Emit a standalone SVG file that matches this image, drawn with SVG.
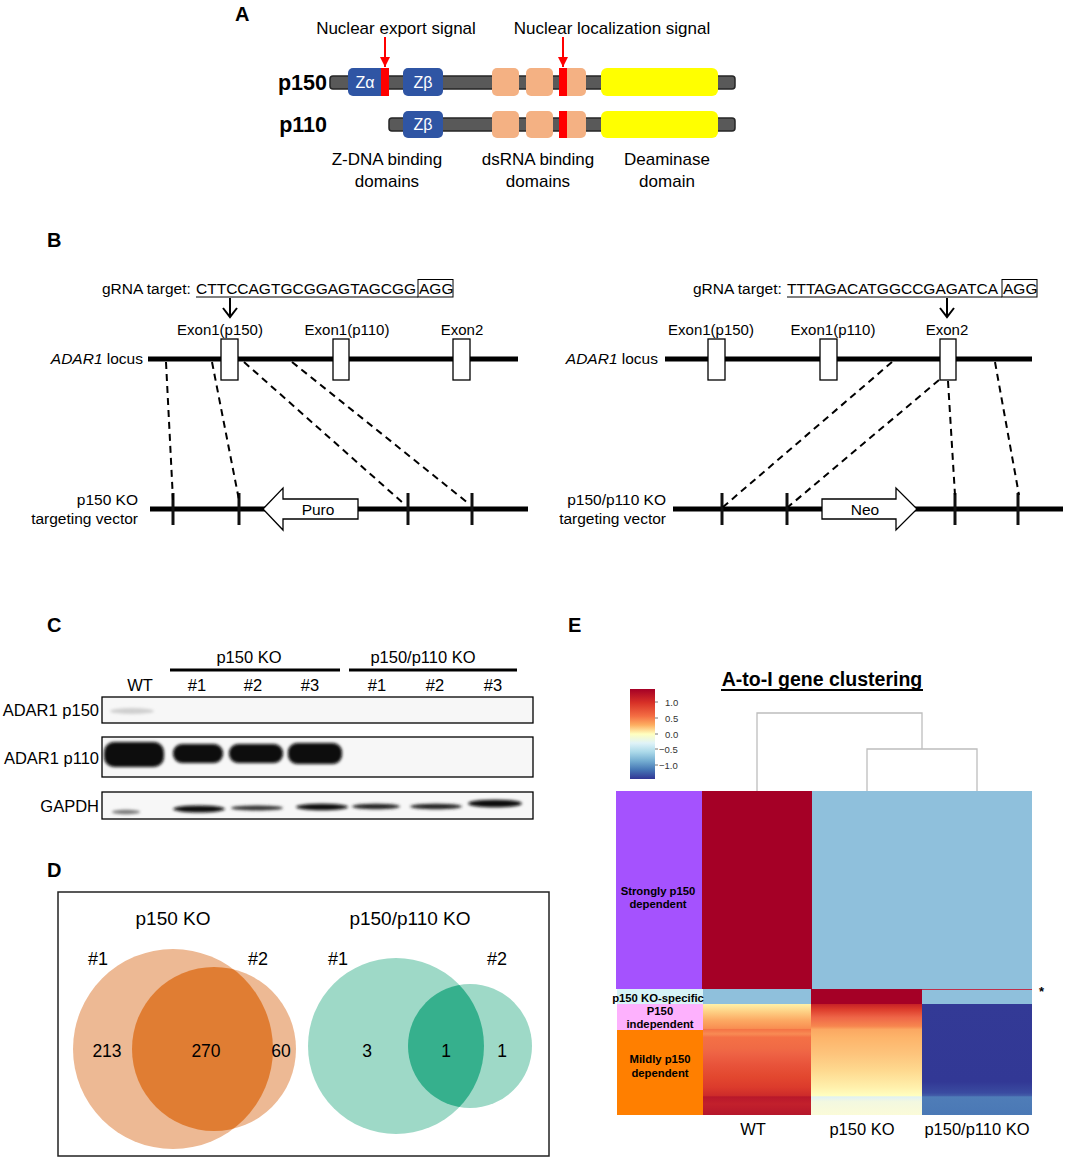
<svg xmlns="http://www.w3.org/2000/svg" width="1065" height="1159" viewBox="0 0 1065 1159">
<style>
text{font-family:"Liberation Sans",Arial,sans-serif;fill:#000}
.lbl{font-size:20px;font-weight:bold}
.a17{font-size:17px}
.b15{font-size:15.5px}
.e15{font-size:15px}
.c16{font-size:16.5px}
.bar{fill:#595959;stroke:#262626;stroke-width:1.5}
.zb{fill:#2f55a4}
.ds{fill:#f4b183}
.red{fill:#ff0000}
.yel{fill:#ffff00}
.zt{fill:#fff;font-size:16px}
.exon{fill:#fff;stroke:#000;stroke-width:1.3}
.thick{stroke:#000;stroke-width:5;fill:none}
.tick{stroke:#111;stroke-width:3}
.dash{stroke:#000;stroke-width:2;stroke-dasharray:7 5;fill:none}
.blot{fill:#f7f7f7;stroke:#000;stroke-width:1.3}
.dend{stroke:#bdbdbd;stroke-width:1.3;fill:none}
.ann{font-size:11.3px;font-weight:bold}
.cb{font-size:9.5px;fill:#333}
</style>
<defs>
<marker id="redArrow" markerWidth="10" markerHeight="10" refX="10" refY="5" orient="auto" markerUnits="userSpaceOnUse" viewBox="0 0 10 10"><path d="M0,0 L10,5 L0,10 Z" fill="#ff0000"/></marker>
<filter id="blur2" x="-20%" y="-60%" width="140%" height="220%"><feGaussianBlur stdDeviation="1.6"/></filter>
<linearGradient id="cbar" x1="0" y1="0" x2="0" y2="1">
<stop offset="0" stop-color="#a50026"/><stop offset="0.15" stop-color="#d73027"/><stop offset="0.3" stop-color="#f46d43"/><stop offset="0.4" stop-color="#fdae61"/><stop offset="0.5" stop-color="#ffffbf"/><stop offset="0.6" stop-color="#e0f3f8"/><stop offset="0.7" stop-color="#abd9e9"/><stop offset="0.8" stop-color="#74add1"/><stop offset="0.9" stop-color="#4575b4"/><stop offset="1" stop-color="#313695"/>
</linearGradient>
<linearGradient id="gWT" gradientUnits="userSpaceOnUse" x1="0" y1="1004" x2="0" y2="1115">
<stop offset="0" stop-color="#fff1a8"/><stop offset="0.07" stop-color="#fed084"/><stop offset="0.15" stop-color="#fca862"/><stop offset="0.22" stop-color="#f98e52"/><stop offset="0.23" stop-color="#f57446"/><stop offset="0.27" stop-color="#f88b54"/><stop offset="0.3" stop-color="#f47046"/><stop offset="0.4" stop-color="#f06a45"/><stop offset="0.45" stop-color="#ee6244"/><stop offset="0.55" stop-color="#e8533a"/><stop offset="0.65" stop-color="#e3482f"/><stop offset="0.75" stop-color="#dc3b2c"/><stop offset="0.83" stop-color="#cc2a2a"/><stop offset="0.835" stop-color="#b8172b"/><stop offset="0.9" stop-color="#c2202c"/><stop offset="1" stop-color="#b5162b"/>
</linearGradient>
<linearGradient id="gKO" gradientUnits="userSpaceOnUse" x1="0" y1="1004" x2="0" y2="1115">
<stop offset="0" stop-color="#c72026"/><stop offset="0.05" stop-color="#dd3d2c"/><stop offset="0.12" stop-color="#ee6547"/><stop offset="0.2" stop-color="#f7864f"/><stop offset="0.23" stop-color="#fba862"/><stop offset="0.3" stop-color="#fdb46a"/><stop offset="0.45" stop-color="#fdc47c"/><stop offset="0.6" stop-color="#fed98f"/><stop offset="0.75" stop-color="#fff0ac"/><stop offset="0.83" stop-color="#ffffc0"/><stop offset="0.835" stop-color="#dff1f3"/><stop offset="0.88" stop-color="#f3f8e0"/><stop offset="1" stop-color="#fbfbd8"/>
</linearGradient>
<linearGradient id="gDKO" gradientUnits="userSpaceOnUse" x1="0" y1="1004" x2="0" y2="1115">
<stop offset="0" stop-color="#333a96"/><stop offset="0.7" stop-color="#323895"/><stop offset="0.8" stop-color="#3a4ba0"/><stop offset="0.83" stop-color="#4460aa"/><stop offset="0.835" stop-color="#4f7db8"/><stop offset="1" stop-color="#4a78b5"/>
</linearGradient>
<clipPath id="clipO"><circle cx="173" cy="1049" r="100"/></clipPath>
<clipPath id="clipG"><circle cx="396" cy="1046" r="88"/></clipPath>
</defs>

<!-- Panel A -->
<g id="panelA">
<text class="lbl" x="235" y="21">A</text>
<text class="a17" x="396" y="34" text-anchor="middle">Nuclear export signal</text>
<text class="a17" x="612" y="34" text-anchor="middle">Nuclear localization signal</text>
<g id="p150">
<text x="327" y="90" text-anchor="end" style="font-size:21.5px;font-weight:bold">p150</text>
<rect class="bar" x="330" y="76" width="405" height="13" rx="3"/>
<rect class="zb" x="348" y="68" width="41" height="28" rx="5"/>
<rect class="red" x="381" y="68" width="8" height="28"/>
<text class="zt" x="365" y="88" text-anchor="middle">Zα</text>
<rect class="zb" x="403" y="68" width="40" height="28" rx="5"/>
<text class="zt" x="423" y="88" text-anchor="middle">Zβ</text>
<rect class="ds" x="492" y="68" width="27" height="28" rx="5"/>
<rect class="ds" x="526" y="68" width="27" height="28" rx="5"/>
<rect class="ds" x="559" y="68" width="27" height="28" rx="5"/>
<rect class="red" x="559" y="68" width="8" height="28"/>
<rect class="yel" x="601" y="68" width="117" height="28" rx="6"/>
</g>
<g id="p110">
<text x="327" y="132" text-anchor="end" style="font-size:21.5px;font-weight:bold">p110</text>
<rect class="bar" x="389" y="118" width="346" height="13" rx="3"/>
<rect class="zb" x="403" y="111" width="40" height="27" rx="5"/>
<text class="zt" x="423" y="130" text-anchor="middle">Zβ</text>
<rect class="ds" x="492" y="111" width="27" height="27" rx="5"/>
<rect class="ds" x="526" y="111" width="27" height="27" rx="5"/>
<rect class="ds" x="559" y="111" width="27" height="27" rx="5"/>
<rect class="red" x="559" y="111" width="8" height="27"/>
<rect class="yel" x="601" y="111" width="117" height="27" rx="6"/>
</g>
<g id="panelA-arrows">
<line x1="385" y1="37" x2="385" y2="67" stroke="#ff0000" stroke-width="2" marker-end="url(#redArrow)"/>
<line x1="563" y1="37" x2="563" y2="67" stroke="#ff0000" stroke-width="2" marker-end="url(#redArrow)"/>
</g>
<text class="a17" x="387" y="165" text-anchor="middle">Z-DNA binding</text>
<text class="a17" x="387" y="187" text-anchor="middle">domains</text>
<text class="a17" x="538" y="165" text-anchor="middle">dsRNA binding</text>
<text class="a17" x="538" y="187" text-anchor="middle">domains</text>
<text class="a17" x="667" y="165" text-anchor="middle">Deaminase</text>
<text class="a17" x="667" y="187" text-anchor="middle">domain</text>
</g>

<!-- Panel B -->
<g id="panelB">
<text class="lbl" x="47" y="247">B</text>
<g id="B-left">
<text class="b15" x="102" y="294">gRNA target:</text>
<text class="b15" x="196" y="294">CTTCCAGTGCGGAGTAGCGG</text>
<text class="b15" x="419" y="294">AGG</text>
<line x1="196" y1="297" x2="418" y2="297" stroke="#000" stroke-width="1"/>
<rect x="418" y="279.5" width="35" height="17.5" fill="none" stroke="#000" stroke-width="1"/>
<text class="e15" x="220" y="335" text-anchor="middle">Exon1(p150)</text>
<text class="e15" x="347" y="335" text-anchor="middle">Exon1(p110)</text>
<text class="e15" x="462" y="335" text-anchor="middle">Exon2</text>
<text x="143" y="364" text-anchor="end" style="font-size:15.5px"><tspan font-style="italic">ADAR1</tspan> locus</text>
<line class="thick" x1="148" y1="359" x2="518" y2="359"/>
<rect class="exon" x="221" y="339" width="17" height="41"/>
<rect class="exon" x="333" y="339" width="16" height="41"/>
<rect class="exon" x="453" y="339" width="17" height="41"/>
<text class="b15" x="138" y="505" text-anchor="end">p150 KO</text>
<text class="b15" x="138" y="524" text-anchor="end">targeting vector</text>
<line class="thick" x1="150" y1="509" x2="528" y2="509"/>
<line class="tick" x1="173" y1="493" x2="173" y2="525"/>
<line class="tick" x1="239" y1="493" x2="239" y2="525"/>
<line class="tick" x1="408" y1="493" x2="408" y2="525"/>
<line class="tick" x1="472" y1="493" x2="472" y2="525"/>
<polygon points="263,509 283,488 283,499 358,499 358,519 283,519 283,530" fill="#fff" stroke="#000" stroke-width="1.3"/>
<text class="b15" x="318" y="515" text-anchor="middle">Puro</text>
</g>
<g id="B-right">
<text class="b15" x="693" y="294">gRNA target:</text>
<text class="b15" x="787" y="294">TTTAGACATGGCCGAGATCA</text>
<text class="b15" x="1003" y="294">AGG</text>
<line x1="787" y1="297" x2="1002" y2="297" stroke="#000" stroke-width="1"/>
<rect x="1002" y="279.5" width="35" height="17.5" fill="none" stroke="#000" stroke-width="1"/>
<text class="e15" x="711" y="335" text-anchor="middle">Exon1(p150)</text>
<text class="e15" x="833" y="335" text-anchor="middle">Exon1(p110)</text>
<text class="e15" x="947" y="335" text-anchor="middle">Exon2</text>
<text x="658" y="364" text-anchor="end" style="font-size:15.5px"><tspan font-style="italic">ADAR1</tspan> locus</text>
<line class="thick" x1="665" y1="359" x2="1032" y2="359"/>
<rect class="exon" x="708" y="339" width="17" height="41"/>
<rect class="exon" x="820" y="339" width="17" height="41"/>
<rect class="exon" x="940" y="339" width="16" height="41"/>
<text class="b15" x="666" y="505" text-anchor="end">p150/p110 KO</text>
<text class="b15" x="666" y="524" text-anchor="end">targeting vector</text>
<line class="thick" x1="673" y1="509" x2="1063" y2="509"/>
<line class="tick" x1="722" y1="493" x2="722" y2="525"/>
<line class="tick" x1="787" y1="493" x2="787" y2="525"/>
<line class="tick" x1="955" y1="493" x2="955" y2="525"/>
<line class="tick" x1="1018" y1="493" x2="1018" y2="525"/>
<polygon points="822,499 896,499 896,488 917,509 896,530 896,519 822,519" fill="#fff" stroke="#000" stroke-width="1.3"/>
<text class="b15" x="865" y="515" text-anchor="middle">Neo</text>
</g>
<g id="B-connectors">
<path d="M230,298 V316 M223,308 L230,317 L237,308" fill="none" stroke="#000" stroke-width="2"/>
<path d="M947,298 V316 M940,308 L947,317 L954,308" fill="none" stroke="#000" stroke-width="2"/>
<line class="dash" x1="166" y1="362" x2="173" y2="500"/>
<line class="dash" x1="212" y1="362" x2="239" y2="500"/>
<line class="dash" x1="244" y1="362" x2="403" y2="503"/>
<line class="dash" x1="292" y1="362" x2="468" y2="503"/>
<line class="dash" x1="892" y1="362" x2="723" y2="507"/>
<line class="dash" x1="939" y1="380" x2="788" y2="507"/>
<line class="dash" x1="948" y1="381" x2="955" y2="495"/>
<line class="dash" x1="995" y1="362" x2="1019" y2="495"/>
</g>
</g>

<!-- Panel C -->
<g id="panelC">
<text class="lbl" x="47" y="632">C</text>
<text class="c16" x="249" y="663" text-anchor="middle">p150 KO</text>
<text class="c16" x="423" y="663" text-anchor="middle">p150/p110 KO</text>
<line x1="170" y1="670" x2="340" y2="670" stroke="#000" stroke-width="3"/>
<line x1="349" y1="670" x2="517" y2="670" stroke="#000" stroke-width="3"/>
<g class="c16" text-anchor="middle">
<text x="140" y="691">WT</text><text x="197" y="691">#1</text><text x="253" y="691">#2</text><text x="310" y="691">#3</text>
<text x="377" y="691">#1</text><text x="435" y="691">#2</text><text x="493" y="691">#3</text>
</g>
<text class="c16" x="99" y="716" text-anchor="end">ADAR1 p150</text>
<text class="c16" x="99" y="764" text-anchor="end">ADAR1 p110</text>
<text class="c16" x="99" y="812" text-anchor="end">GAPDH</text>
<g id="blot-p150">
<rect class="blot" x="102" y="697" width="431" height="26"/>
<ellipse cx="132" cy="711" rx="22" ry="3" fill="#cfcfcf" filter="url(#blur2)"/>
</g>
<g id="blot-p110">
<rect class="blot" x="102" y="737" width="431" height="40"/>
<g fill="#080808" filter="url(#blur2)">
<rect x="104" y="742" width="60" height="25" rx="10"/>
<rect x="173" y="744" width="50" height="19" rx="9"/>
<rect x="229" y="744" width="54" height="19" rx="9"/>
<rect x="288" y="743" width="54" height="21" rx="9"/>
</g>
</g>
<g id="blot-gapdh">
<rect class="blot" x="102" y="792" width="431" height="27"/>
<g filter="url(#blur2)">
<ellipse cx="126" cy="812" rx="14" ry="2.2" fill="#777"/>
<ellipse cx="199" cy="809" rx="26" ry="3.4" fill="#111"/>
<ellipse cx="257" cy="808" rx="26" ry="2.4" fill="#333"/>
<ellipse cx="322" cy="807" rx="26" ry="3.3" fill="#111"/>
<ellipse cx="376" cy="806.5" rx="24" ry="2.8" fill="#222"/>
<ellipse cx="436" cy="806.5" rx="26" ry="2.8" fill="#222"/>
<ellipse cx="495" cy="803.5" rx="27" ry="3.8" fill="#0a0a0a"/>
</g>
</g>
</g>

<!-- Panel D -->
<g id="panelD">
<text class="lbl" x="47" y="877">D</text>
<rect x="58" y="892" width="491" height="264" fill="none" stroke="#222" stroke-width="1.5"/>
<g id="venn-p150ko">
<text x="173" y="925" text-anchor="middle" style="font-size:19px">p150 KO</text>
<text x="98" y="965" text-anchor="middle" style="font-size:18px">#1</text>
<text x="258" y="965" text-anchor="middle" style="font-size:18px">#2</text>
<circle cx="173" cy="1049" r="100" fill="#edb994"/>
<circle cx="214" cy="1049" r="82" fill="#edb994"/>
<circle cx="214" cy="1049" r="82" fill="#e07d33" clip-path="url(#clipO)"/>
<text x="107" y="1057" text-anchor="middle" style="font-size:17.5px">213</text>
<text x="206" y="1057" text-anchor="middle" style="font-size:17.5px">270</text>
<text x="281" y="1057" text-anchor="middle" style="font-size:17.5px">60</text>
</g>
<g id="venn-dko">
<text x="410" y="925" text-anchor="middle" style="font-size:19px">p150/p110 KO</text>
<text x="338" y="965" text-anchor="middle" style="font-size:18px">#1</text>
<text x="497" y="965" text-anchor="middle" style="font-size:18px">#2</text>
<circle cx="396" cy="1046" r="88" fill="#9ed9c7"/>
<circle cx="470" cy="1046" r="62" fill="#9ed9c7"/>
<circle cx="470" cy="1046" r="62" fill="#36b08d" clip-path="url(#clipG)"/>
<text x="367" y="1057" text-anchor="middle" style="font-size:17.5px">3</text>
<text x="446" y="1057" text-anchor="middle" style="font-size:17.5px">1</text>
<text x="502" y="1057" text-anchor="middle" style="font-size:17.5px">1</text>
</g>
</g>

<!-- Panel E -->
<g id="panelE">
<text class="lbl" x="568" y="632">E</text>
<text x="822" y="686" text-anchor="middle" style="font-size:19.5px;font-weight:bold">A-to-I gene clustering</text>
<line x1="721" y1="690" x2="923" y2="690" stroke="#000" stroke-width="2"/>
<g id="colorbar">
<rect x="630" y="689" width="25" height="90" fill="url(#cbar)"/>
<g stroke="#777" stroke-width="1">
<line x1="655" y1="702" x2="658" y2="702"/><line x1="655" y1="718" x2="658" y2="718"/><line x1="655" y1="734" x2="658" y2="734"/><line x1="655" y1="749" x2="658" y2="749"/><line x1="655" y1="765" x2="658" y2="765"/>
</g>
<text class="cb" x="665" y="705.5">1.0</text>
<text class="cb" x="665" y="721.5">0.5</text>
<text class="cb" x="665" y="737.5">0.0</text>
<text class="cb" x="659" y="752.5">−0.5</text>
<text class="cb" x="659" y="768.5">−1.0</text>
</g>
<g id="dendrogram">
<path class="dend" d="M757,791 V713 H922 V749"/>
<path class="dend" d="M867,791 V749 H977 V791"/>
</g>
<g id="heatmap">
<rect x="616" y="791" width="86" height="198" fill="#a552fe"/>
<rect x="702" y="791" width="110" height="198" fill="#a50026"/>
<rect x="812" y="791" width="220" height="198" fill="#8fc0dc"/>
<rect x="617" y="989" width="86" height="15" fill="#d7f3f7"/>
<rect x="703" y="989" width="108" height="15" fill="#8fc0dc"/>
<rect x="811" y="989" width="111" height="15" fill="#a50026"/>
<rect x="922" y="989" width="110" height="15" fill="#8fc0dc"/>
<line x1="922" y1="989.5" x2="1032" y2="989.5" stroke="#c0304a" stroke-width="1"/>
<rect x="617" y="1004" width="86" height="26" fill="#fdb1fd"/>
<rect x="617" y="1030" width="86" height="85" fill="#ff7f00"/>
<rect x="703" y="1004" width="108" height="111" fill="url(#gWT)"/>
<rect x="811" y="1004" width="111" height="111" fill="url(#gKO)"/>
<rect x="922" y="1004" width="110" height="111" fill="url(#gDKO)"/>
<text x="1039" y="996" style="font-size:13px;font-weight:bold">*</text>
</g>
<g id="annotations" text-anchor="middle">
<text class="ann" x="658" y="895">Strongly p150</text>
<text class="ann" x="658" y="908">dependent</text>
<text class="ann" x="658" y="1002">p150 KO-specific</text>
<text class="ann" x="660" y="1015">P150</text>
<text class="ann" x="660" y="1028">independent</text>
<text class="ann" x="660" y="1063">Mildly p150</text>
<text class="ann" x="660" y="1077">dependent</text>
</g>
<g text-anchor="middle" style="font-size:16.5px">
<text x="753" y="1135">WT</text>
<text x="862" y="1135">p150 KO</text>
<text x="977" y="1135">p150/p110 KO</text>
</g>
</g>
</svg>
